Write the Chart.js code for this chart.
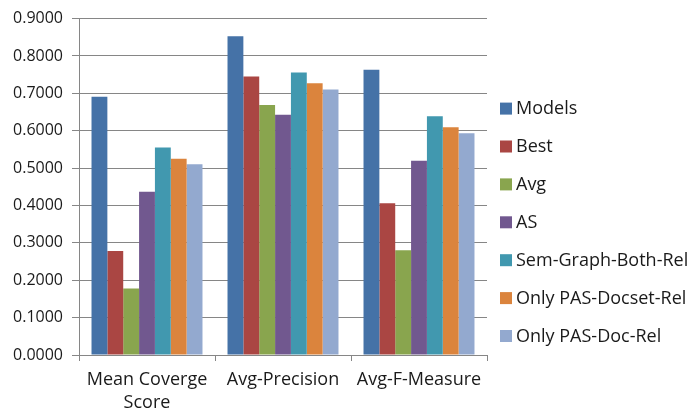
<!DOCTYPE html>
<html>
<head>
<meta charset="utf-8">
<script src="https://cdn.jsdelivr.net/npm/chart.js@4/dist/chart.umd.min.js"></script>
<style>
  html, body { margin: 0; padding: 0; background: #ffffff; }
  #wrap { width: 692px; height: 411px; }
</style>
</head>
<body>
<div id="wrap"><canvas id="c" width="692" height="411"></canvas></div>
<script>
// Evaluation measures (x categories)
const categories = [["Mean Coverge", "Score"], "Avg-Precision", "Avg-F-Measure"];

// Scores per system
const models        = [0.691, 0.853, 0.763];
const best          = [0.278, 0.745, 0.406];
const avg           = [0.178, 0.669, 0.280];
const as            = [0.437, 0.643, 0.520];
const semGraphBoth  = [0.555, 0.756, 0.639];
const pasDocsetRel  = [0.525, 0.727, 0.609];
const pasDocRel     = [0.510, 0.710, 0.593];

const seriesNames = ["Models", "Best", "Avg", "AS", "Sem-Graph-Both-Rel", "Only PAS-Docset-Rel", "Only PAS-Doc-Rel"];
const seriesValues = [models, best, avg, as, semGraphBoth, pasDocsetRel, pasDocRel];
const seriesColors = ["#4572A7", "#AA4643", "#89A54E", "#71588F", "#4198AF", "#DB843D", "#93A9CF"];

// Y axis: 0.0000 .. 0.9000 step 0.1
const yMin = 0, yMax = 0.9, yStep = 0.1;

const FONT = "'Open Sans', 'Liberation Sans', sans-serif";
const TEXT = "#1a1a1a";
const GRID = "#868686";

const datasets = seriesNames.map((name, i) => ({
  label: name,
  data: seriesValues[i],
  backgroundColor: seriesColors[i],
  borderWidth: 0,
  barPercentage: 1.0,
  categoryPercentage: 0.816
}));

// Legend column to the right of the plot, one entry per dataset
const sideLegend = {
  id: "sideLegend",
  afterDraw(chart) {
    const ctx = chart.ctx;
    const area = chart.chartArea;
    const x0 = area.right + 13;
    const yStart = area.top + 90;
    const gap = 37.9;
    ctx.save();
    ctx.font = "18px " + FONT;
    ctx.textBaseline = "middle";
    ctx.textAlign = "left";
    chart.data.datasets.forEach((ds, i) => {
      const y = yStart + i * gap;
      ctx.fillStyle = ds.backgroundColor;
      ctx.fillRect(x0, y - 6, 12, 12);
      ctx.fillStyle = TEXT;
      ctx.fillText(ds.label, x0 + 16, y + 0.5);
    });
    ctx.restore();
  }
};

new Chart(document.getElementById("c"), {
  type: "bar",
  data: { labels: categories, datasets },
  plugins: [sideLegend],
  options: {
    responsive: false,
    animation: false,
    layout: { padding: { top: 8, left: 0, right: 205, bottom: 0 } },
    plugins: {
      legend: { display: false },
      tooltip: { enabled: false }
    },
    scales: {
      x: {
        afterFit(scale) { scale.height = 56; },
        grid: {
          display: true,
          drawOnChartArea: false,
          drawTicks: true,
          tickLength: 6,
          color: GRID,
          offset: true
        },
        border: { color: GRID, width: 1 },
        ticks: {
          color: TEXT,
          font: { family: FONT, size: 18, lineHeight: 1.3 },
          padding: 7,
          maxRotation: 0,
          autoSkip: false
        }
      },
      y: {
        min: yMin,
        max: yMax,
        afterFit(scale) { scale.width = 79; },
        grid: {
          color: GRID,
          lineWidth: 1,
          tickLength: 7
        },
        border: { color: GRID, width: 1 },
        ticks: {
          stepSize: yStep,
          color: TEXT,
          font: { family: FONT, size: 16 },
          padding: 9,
          callback: v => Number(v).toFixed(4)
        }
      }
    }
  }
});
</script>
</body>
</html>
